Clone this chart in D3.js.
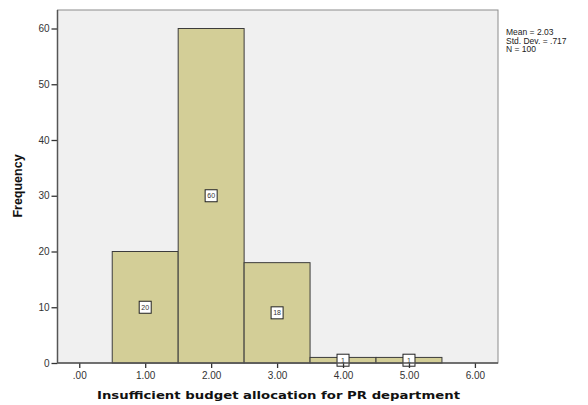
<!DOCTYPE html>
<html>
<head>
<meta charset="utf-8">
<script src="https://cdn.jsdelivr.net/npm/d3@7"></script>
<style>
  body { margin: 0; background: #fff; }
  text { font-family: Arial, "Liberation Sans", sans-serif; }
</style>
</head>
<body>
<div class="chart"></div>
<script>
// histogram bins (midpoints) and counts
const binMids = [1, 2, 3, 4, 5]
const counts = [20, 60, 18, 1, 1]
const xTicks = [0, 1, 2, 3, 4, 5, 6]
const yTicks = [0, 10, 20, 30, 40, 50, 60]
const statLines = ['Mean = 2.03', 'Std. Dev. = .717', 'N = 100']

const W = 588, H = 405
const plot = {left: 57.5, right: 498, top: 10, bottom: 363}

const svg = d3.select('.chart')
  .append('svg')
  .attr('width', W)
  .attr('height', H)

const x = d3.scaleLinear()
  .domain([-0.33, 6.35])
  .range([plot.left, plot.right])

const y = d3.scaleLinear()
  .domain([0, 60])
  .range([plot.bottom, plot.bottom - 6 * 55.75])

// plot background
svg.append('rect')
  .attr('x', plot.left)
  .attr('y', plot.top)
  .attr('width', plot.right - plot.left)
  .attr('height', plot.bottom - plot.top)
  .attr('fill', '#f0f0f0')
  .attr('stroke', '#8c8c8c')
  .attr('stroke-width', 1)

// bars
svg.append('g')
  .selectAll('rect')
  .data(binMids)
  .enter().append('rect')
    .attr('x', d => x(d - 0.5))
    .attr('y', (d, i) => y(counts[i]))
    .attr('width', d => x(d + 0.5) - x(d - 0.5))
    .attr('height', (d, i) => y(0) - y(counts[i]))
    .attr('fill', '#d3ce97')
    .attr('stroke', '#3c3c3c')
    .attr('stroke-width', 1)

// value labels in boxes
const labels = svg.append('g')
  .selectAll('g')
  .data(binMids)
  .enter().append('g')
    .attr('transform', (d, i) => 'translate(' + x(d) + ',' + y(counts[i] / 2) + ')')

labels.append('rect')
  .attr('x', -6)
  .attr('y', -6)
  .attr('width', 12)
  .attr('height', 12)
  .attr('fill', '#fff')
  .attr('stroke', '#222')
  .attr('stroke-width', 1)

labels.append('text')
  .attr('text-anchor', 'middle')
  .attr('dy', '0.35em')
  .style('font-size', '7px')
  .attr('fill', '#333')
  .text((d, i) => counts[i])

// axes
const yAxis = svg.append('g')
  .attr('transform', 'translate(' + plot.left + ',0)')
  .call(d3.axisLeft(y).tickValues(yTicks).tickSize(6).tickPadding(2).tickFormat(d3.format('d')))

const xAxis = svg.append('g')
  .attr('transform', 'translate(0,' + plot.bottom + ')')
  .call(d3.axisBottom(x).tickValues(xTicks).tickSize(5).tickPadding(4)
    .tickFormat(d => d === 0 ? '.00' : d3.format('.2f')(d)))

;[yAxis, xAxis].forEach(a => {
  a.select('.domain').remove()
  a.selectAll('line').attr('stroke', '#333').attr('stroke-width', 1.3)
  a.selectAll('text').style('font-size', '10px').attr('fill', '#333')
    .style('font-family', 'Arial, "Liberation Sans", sans-serif')
})

// dark left and bottom axis lines
svg.append('line')
  .attr('x1', plot.left).attr('x2', plot.left)
  .attr('y1', plot.top).attr('y2', plot.bottom)
  .attr('stroke', '#555').attr('stroke-width', 1.5)
svg.append('line')
  .attr('x1', plot.left).attr('x2', plot.right)
  .attr('y1', plot.bottom).attr('y2', plot.bottom)
  .attr('stroke', '#555').attr('stroke-width', 1.5)

// axis titles
svg.append('text')
  .attr('transform', 'translate(22,186) rotate(-90)')
  .attr('text-anchor', 'middle')
  .style('font-size', '12.5px')
  .style('font-weight', 'bold')
  .attr('fill', '#111')
  .text('Frequency')

svg.append('text')
  .attr('x', 97)
  .attr('y', 399)
  .attr('textLength', 363)
  .attr('lengthAdjust', 'spacingAndGlyphs')
  .style('font-family', '"DejaVu Sans", Verdana, sans-serif')
  .style('font-size', '11px')
  .style('font-weight', 'bold')
  .attr('fill', '#111')
  .text('Insufficient budget allocation for PR department')

// stats
svg.append('g')
  .selectAll('text')
  .data(statLines)
  .enter().append('text')
    .attr('x', 506)
    .attr('y', (d, i) => 35 + i * 8.5)
    .style('font-size', '8.5px')
    .attr('fill', '#222')
    .text(d => d)
</script>
</body>
</html>
